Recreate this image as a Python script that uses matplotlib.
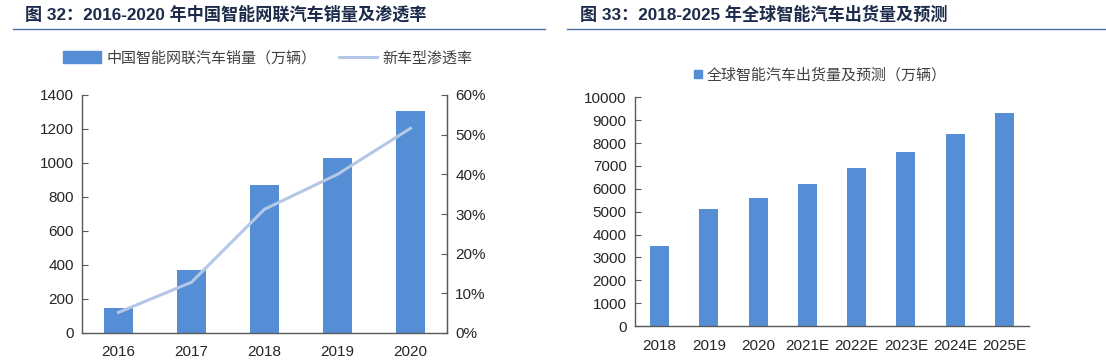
import matplotlib
matplotlib.use('Agg')
import matplotlib.pyplot as plt
from matplotlib.lines import Line2D
from matplotlib.patches import Patch
from matplotlib.ticker import PercentFormatter

plt.rcParams['font.family'] = ['Liberation Sans', 'Noto Sans CJK SC', 'DejaVu Sans']

# ---- data ----
years_cn = ['2016', '2017', '2018', '2019', '2020']
sales_cn = [145, 368, 871, 1032, 1304]          # 万辆
penetration = [5.2, 12.8, 31.2, 40.0, 51.6]      # %

years_gl = ['2018', '2019', '2020', '2021E', '2022E', '2023E', '2024E', '2025E']
shipments_gl = [3500, 5100, 5600, 6200, 6900, 7600, 8400, 9300]  # 万辆

title_l = '图 32：2016-2020 年中国智能网联汽车销量及渗透率'
title_r = '图 33：2018-2025 年全球智能汽车出货量及预测'
lab_sales = '中国智能网联汽车销量（万辆）'
lab_pen = '新车型渗透率'
lab_gl = '全球智能汽车出货量及预测（万辆）'

BAR = '#558ed5'
LINE = '#b4c7e7'
AX = '#595959'
TXT = '#262626'
TITLE = '#1c2b4a'

W, H = 1106, 362
fig = plt.figure(figsize=(W / 100, H / 100), dpi=100)

def style(ax, right=False):
    ax.spines['top'].set_visible(False)
    ax.spines['right'].set_visible(right)
    for s in ['left', 'bottom', 'right']:
        ax.spines[s].set_color(AX)
        ax.spines[s].set_linewidth(1.0)
    ax.tick_params(axis='y', direction='in', length=4, color=AX, labelsize=11, labelcolor=TXT, pad=6)
    ax.tick_params(axis='x', which='both', length=0, labelsize=11, labelcolor=TXT, pad=9)

def boundary_ticks(ax, n):
    ax.set_xticks(range(n))
    ax.set_xticks([i + 0.5 for i in range(-1, n)], minor=True)
    ax.tick_params(axis='x', which='minor', direction='in', length=4, color=AX)

# ---- left chart ----
axL = fig.add_axes([82 / W, 1 - 333 / H, (447 - 82) / W, (333 - 95) / H])
x = range(len(years_cn))
axL.bar(x, sales_cn, width=0.4, color=BAR, zorder=2)
axL.set_xlim(-0.5, len(years_cn) - 0.5)
axL.set_ylim(0, 1400)
axL.set_yticks(range(0, 1401, 200))
axL.set_xticklabels(years_cn)
boundary_ticks(axL, len(years_cn))
style(axL, right=True)

axR2 = axL.twinx()
axR2.plot(x, penetration, color=LINE, lw=2.2, zorder=3)
axR2.set_ylim(0, 60)
axR2.set_yticks(range(0, 61, 10))
axR2.yaxis.set_major_formatter(PercentFormatter(decimals=0))
for s in ['top', 'left', 'bottom']:
    axR2.spines[s].set_visible(False)
axR2.spines['right'].set_color(AX)
axR2.tick_params(axis='y', direction='in', length=4, color=AX, labelsize=11, labelcolor=TXT, pad=6)

fig.legend(handles=[Patch(color=BAR, label=lab_sales),
                    Line2D([], [], color=LINE, lw=2.2, label=lab_pen)],
           loc='center', bbox_to_anchor=(268 / W, 1 - 58 / H), ncol=2, frameon=False,
           fontsize=10.8, handlelength=2.5, handleheight=0.9, handletextpad=0.4,
           columnspacing=1.5, labelcolor='#404040')

# ---- right chart ----
axG = fig.add_axes([635 / W, 1 - 326 / H, (1029 - 635) / W, (326 - 97.3) / H])
xg = range(len(years_gl))
axG.bar(xg, shipments_gl, width=0.39, color=BAR, zorder=2)
axG.set_xlim(-0.5, len(years_gl) - 0.5)
axG.set_ylim(0, 10000)
axG.set_yticks(range(0, 10001, 1000))
axG.set_xticklabels(years_gl)
boundary_ticks(axG, len(years_gl))
style(axG)

fig.legend(handles=[Line2D([], [], marker='s', ls='none', color=BAR, markersize=6, label=lab_gl)],
           loc='center', bbox_to_anchor=(820 / W, 1 - 75 / H), frameon=False,
           fontsize=10.8, handlelength=0.6, handletextpad=0.3, labelcolor='#404040')

# ---- titles ----
fig.text(25 / W, 1 - 14 / H, title_l, fontsize=12.3, fontweight='bold', color=TITLE, va='center', ha='left')
fig.text(580 / W, 1 - 14 / H, title_r, fontsize=12.3, fontweight='bold', color=TITLE, va='center', ha='left')
fig.add_artist(Line2D([13 / W, 545 / W], [1 - 29 / H] * 2, color='#4f6fa0', lw=1.0))
fig.add_artist(Line2D([567 / W, 1105 / W], [1 - 29 / H] * 2, color='#4f6fa0', lw=1.0))

fig.savefig('out.png', dpi=100, facecolor='white')
